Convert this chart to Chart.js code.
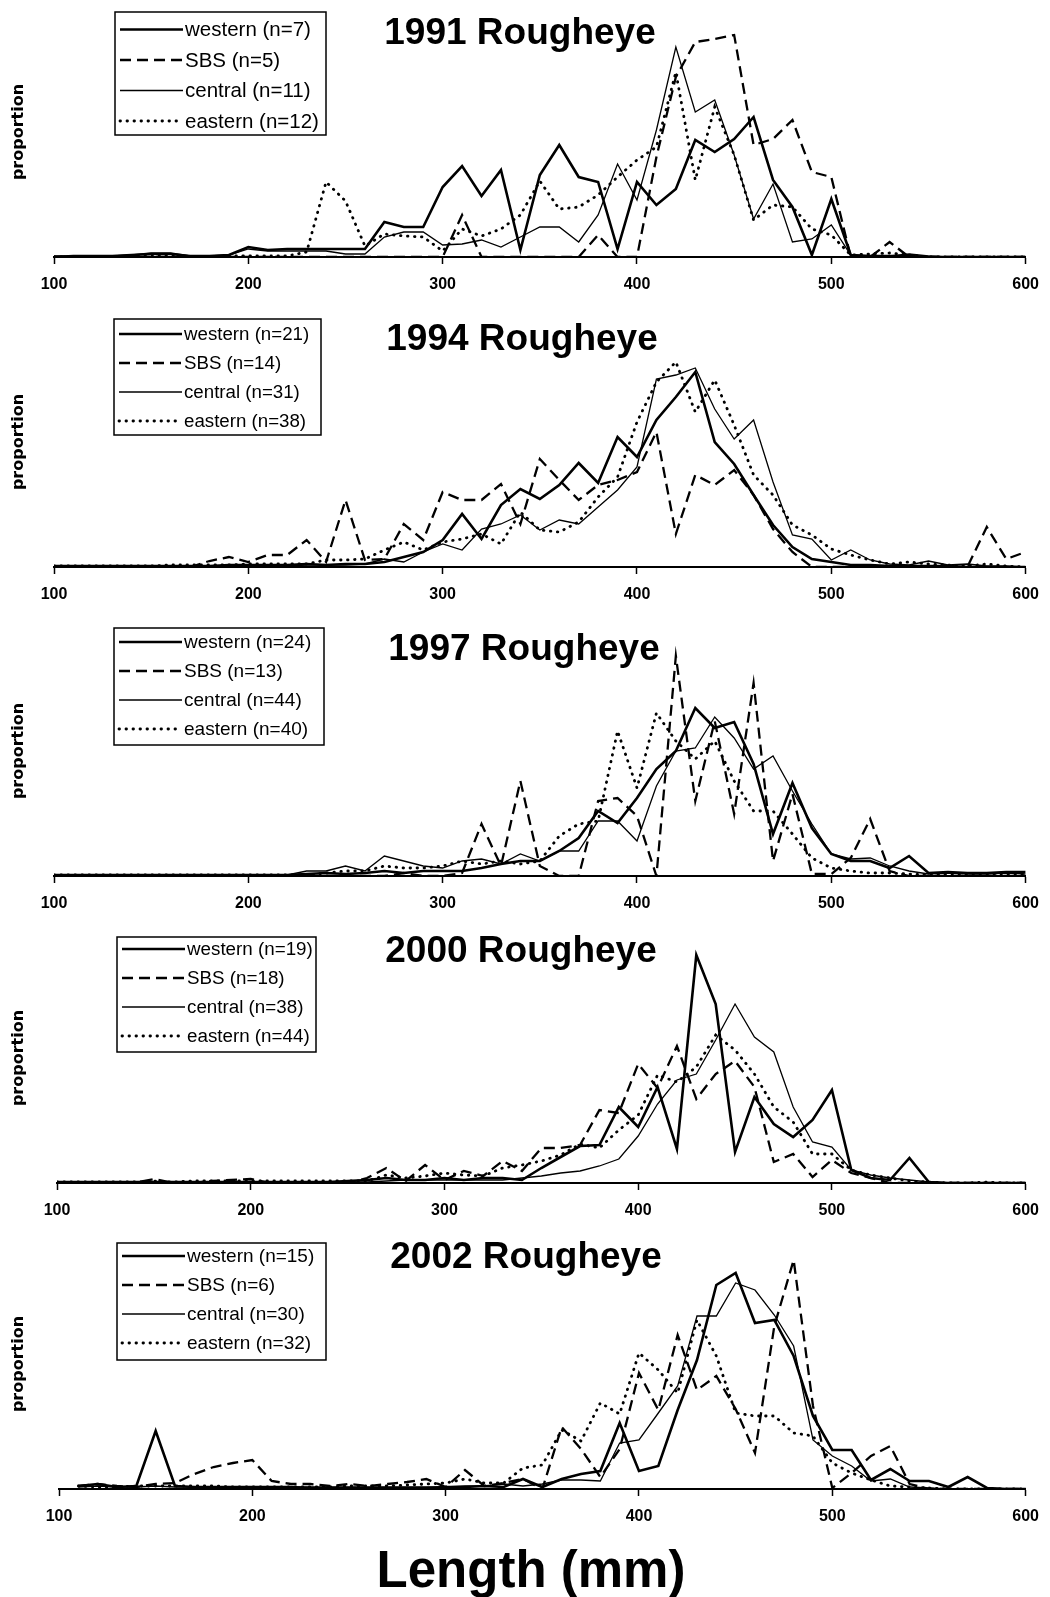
<!DOCTYPE html>
<html>
<head>
<meta charset="utf-8">
<script src="https://cdn.jsdelivr.net/npm/chart.js@4.4.1/dist/chart.umd.min.js"></script>
<style>
html, body { margin:0; padding:0; background:#fff; }
body { width:1050px; height:1597px; position:relative; overflow:hidden; }
.panel { position:absolute; left:0; }
#xlabel { position:absolute; left:6px; width:1050px; top:1544px; text-align:center; font:bold 51px/51px "Liberation Sans", Arial, sans-serif; color:#000; }
</style>
</head>
<body>
<div class="panel" style="top:0px"><canvas id="c1991" width="1050" height="300"></canvas></div>
<div class="panel" style="top:305px"><canvas id="c1994" width="1050" height="305"></canvas></div>
<div class="panel" style="top:614px"><canvas id="c1997" width="1050" height="305"></canvas></div>
<div class="panel" style="top:921px"><canvas id="c2000" width="1050" height="305"></canvas></div>
<div class="panel" style="top:1227px"><canvas id="c2002" width="1050" height="305"></canvas></div>
<div id="xlabel">Length (mm)</div>
<script>
// length bins (mm)
const lengths = [100,110,120,130,140,150,160,170,180,190,200,210,220,230,240,250,260,270,280,290,300,310,320,330,340,350,360,370,380,390,400,410,420,430,440,450,460,470,480,490,500,510,520,530,540,550,560,570,580,590,600]
const xTicks = [100,200,300,400,500,600]

// proportions (%), one value per bin
const west1991 = [0,0.1,0.1,0.1,0.2,0.3,0.3,0.1,0.1,0.2, 1.0,0.7,0.8,0.8,0.8,0.8,0.8,3.5,3.0,3.0, 7.0,9.1,6.1,8.7,0.7,8.2,11.2,8.0,7.5,0.8, 7.5,5.2,6.8,11.7,10.5,11.8,14.0,7.7,5.0,0.2, 5.8,0.2,0.1,0.1,0.1,0,0,0,0,0,0]
const sbs1991  = [0,0,0,0,0,0,0,0,0,0, 0,0,0,0,0,0,0,0,0,0, 0,4.2,0,0,0,0,0,0,2.2,0, 0,10.0,18.0,21.5,21.8,22.2,11.2,11.8,13.7,8.5, 8.0,0,0,1.5,0,0,0,0,0,0,0]
const cent1991 = [0.1,0.1,0.1,0.1,0.2,0.4,0.4,0.1,0.1,0.2, 0.8,0.6,0.6,0.6,0.6,0.3,0.3,2.0,2.5,2.5, 1.2,1.3,1.7,1.0,2.0,3.0,3.0,1.5,4.2,9.3, 5.7,12.7,21.0,14.5,15.7,10.2,3.8,7.3,1.5,1.8, 3.2,0.2,0.1,0.1,0.3,0.1,0,0,0,0,0]
const east1991 = [0,0,0,0,0.1,0.1,0.1,0,0,0.1, 0.1,0.1,0.1,0.5,7.5,5.6,1.1,2.3,2.1,2.0, 0.6,2.8,2.1,2.8,4.2,7.6,4.8,5.0,6.2,8.0, 9.7,11.0,18.5,7.7,15.0,10.2,3.7,5.2,5.0,2.8, 2.2,0.2,0.3,0.4,0.2,0,0,0,0,0,0]

const west1994 = [0.1,0.1,0.1,0.1,0.1,0.1,0.1,0.1,0.1,0.2, 0.2,0.2,0.2,0.3,0.2,0.3,0.3,0.5,1.0,1.5, 2.7,5.3,2.8,6.2,7.8,6.8,8.2,10.4,8.4,13.0, 11.0,14.7,17.0,19.5,12.5,10.3,7.2,4.2,2.0,0.8, 0.5,0.2,0.2,0.1,0.1,0.1,0.1,0,0,0,0]
const sbs1994  = [0,0,0,0,0,0,0,0,0.6,1.0, 0.5,1.2,1.2,2.7,0.5,6.7,0.7,0.8,4.3,2.7, 7.5,6.7,6.7,8.3,4.3,10.8,8.7,6.7,8.2,8.7, 9.5,13.5,3.3,9.2,8.2,9.7,7.2,3.8,1.5,0, 0,0,0,0,0,0,0,0,4.0,0.8,1.5]
const cent1994 = [0.1,0.1,0.1,0.1,0.1,0.1,0.1,0.1,0.1,0.1, 0.1,0.1,0.1,0.2,0.2,0.2,0.3,0.8,0.5,1.5, 2.3,1.7,3.8,4.3,5.2,3.7,4.7,4.3,6.0,7.7, 10.0,18.8,19.2,19.9,15.8,12.8,14.7,8.5,3.2,2.8, 0.7,1.7,0.7,0.3,0.2,0.6,0.2,0.3,0.1,0.1,0]
const east1994 = [0.1,0.1,0.1,0.1,0.1,0.1,0.2,0.2,0.2,0.2, 0.3,0.3,0.3,0.3,0.7,0.7,0.8,1.7,2.5,1.7, 2.5,2.8,3.3,2.3,5.5,3.7,3.5,4.5,7.0,9.0, 14.5,18.5,20.5,15.5,18.7,14.2,9.2,7.2,4.2,3.2, 1.8,1.2,0.7,0.3,0.5,0.3,0.2,0.1,0.3,0.1,0]

const west1997 = [0.1,0.1,0.1,0.1,0.1,0.1,0.1,0.1,0.1,0.1, 0.1,0.1,0.1,0.2,0.3,0.2,0.3,0.5,0.3,0.5, 0.5,0.5,0.8,1.2,1.5,1.5,2.5,3.8,6.5,5.3, 7.8,10.7,12.5,16.8,14.8,15.4,11.2,4.2,9.3,4.8, 2.2,1.5,1.5,0.8,2.0,0.3,0.4,0.3,0.3,0.4,0.4]
const sbs1997  = [0,0,0,0,0,0,0,0,0,0, 0,0,0,0,0,0,0,0,0.3,0, 0,0.3,5.2,1.0,9.5,1.0,0,0,7.5,7.8, 6.0,0,22.0,7.5,15.5,6.2,19.3,1.5,8.2,0.2, 0.2,1.8,5.7,0.5,0,0,0,0,0,0,0]
const cent1997 = [0.1,0.1,0.1,0.1,0.1,0.1,0.1,0.1,0.1,0.1, 0.1,0.1,0.1,0.5,0.5,1.0,0.5,2.0,1.5,1.0, 0.8,1.5,1.7,1.2,2.2,1.5,2.5,2.5,5.5,5.5, 3.5,9.0,12.5,12.8,15.9,13.8,10.7,12.0,8.5,5.2, 2.2,1.7,1.8,1.0,0.5,0.2,0.3,0.2,0.2,0.3,0.2]
const east1997 = [0.1,0.1,0.1,0.1,0.1,0.1,0.1,0.1,0.1,0.1, 0.1,0.1,0.1,0.1,0.3,0.5,0.5,1.0,0.8,0.8, 1.0,1.5,1.2,1.5,1.2,1.5,4.0,5.2,5.5,14.5, 8.8,16.3,13.5,11.7,13.5,9.5,6.5,6.5,4.2,1.8, 0.8,0.5,0.3,0.3,0.2,0.1,0.2,0.2,0.2,0.2,0.2]

const west2000 = [0.1,0.1,0.1,0.1,0.1,0.1,0.1,0.1,0.1,0.1, 0.1,0.1,0.1,0.1,0.1,0.2,0.3,0.5,0.3,0.3, 0.5,0.3,0.5,0.5,0.3,1.5,2.6,3.7,3.8,7.6, 5.6,9.6,3.4,22.8,17.9,3.1,8.6,5.9,4.6,6.3, 9.3,1.3,0.5,0.3,2.5,0.1,0,0,0,0,0]
const sbs2000  = [0,0,0,0,0,0.4,0,0,0.2,0.3, 0.4,0,0,0,0,0,0.5,1.5,0.2,1.8, 0.3,1.2,0.7,2.2,1.2,3.5,3.5,3.8,7.3,7.0, 11.9,9.5,13.7,8.4,10.9,12.2,9.6,2.1,2.9,0.6, 2.3,1.0,0.5,0,0,0,0,0,0,0,0]
const cent2000 = [0.1,0.1,0.1,0.1,0.1,0.1,0.1,0.1,0.1,0.1, 0.1,0.1,0.1,0.1,0.1,0.1,0.1,0.2,0.3,0.3, 0.3,0.3,0.3,0.3,0.5,0.7,1.0,1.2,1.7,2.4, 4.7,7.9,10.3,10.9,14.3,17.9,14.6,13.1,7.6,4.1, 3.6,1.3,0.8,0.5,0.3,0.1,0,0,0,0,0]
const east2000 = [0.1,0.1,0.1,0.1,0.1,0.2,0.1,0.2,0.2,0.2, 0.2,0.2,0.2,0.2,0.2,0.2,0.2,0.8,0.5,0.7, 1.0,0.8,0.7,1.5,1.8,2.2,2.8,3.9,3.5,5.3, 6.8,10.8,10.1,11.6,14.8,13.3,10.9,7.6,6.1,2.9, 2.9,1.3,0.8,0.5,0.2,0.1,0,0,0.1,0,0]

const west2002 = [null,0.3,0.5,0.2,0.3,5.8,0.3,0.2,0.2,0.2, 0.2,0.2,0.2,0.1,0.1,0.1,0.1,0.1,0.1,0.1, 0.2,0.2,0.3,0.2,1.0,0.2,1.0,1.5,1.8,6.6, 1.8,2.3,7.9,12.9,20.4,21.6,16.6,16.9,13.3,7.3, 3.9,3.9,0.9,2.0,0.8,0.8,0.2,1.2,0.1,0,0]
const sbs2002  = [null,0.3,0.5,0.3,0.2,0.5,0.6,1.5,2.2,2.6, 2.9,0.8,0.5,0.5,0.3,0.5,0.3,0.5,0.7,1.0, 0.2,1.9,0.3,0.6,1.0,0,6.2,4.0,1.2,4.0, 11.6,7.9,15.4,9.9,11.3,8.0,3.6,16.3,22.9,8.3, 0.1,1.6,3.3,4.3,0.5,0,0,0,0,0,0]
const cent2002 = [null,0.2,0.3,0.2,0.2,0.3,0.2,0.2,0.2,0.2, 0.2,0.2,0.2,0.2,0.2,0.2,0.2,0.2,0.2,0.2, 0.2,0.3,0.3,0.5,0.3,0.5,0.9,0.9,0.8,4.6, 4.9,7.6,10.3,17.3,17.3,20.6,19.9,17.4,14.3,4.9, 3.3,2.3,0.8,1.0,0.2,0.1,0,0,0,0,0]
const east2002 = [null,0.3,0.2,0.2,0.3,0.3,0.3,0.3,0.3,0.2, 0.2,0.2,0.2,0.2,0.2,0.3,0.3,0.3,0.4,0.5, 0.6,1.0,0.6,0.6,2.1,2.4,5.9,4.8,8.6,7.5, 13.6,11.9,9.6,16.9,13.3,7.6,7.3,7.3,5.6,5.3, 2.6,1.6,0.9,0.3,0.2,0.1,0,0,0,0,0]

// sample sizes per year: western, SBS, central, eastern
const nWest = [7, 21, 24, 19, 15]
const nSbs = [5, 14, 13, 18, 6]
const nCent = [11, 31, 44, 38, 30]
const nEast = [12, 38, 40, 44, 32]
const years = ['1991','1994','1997','2000','2002']

const styles = [
  { borderWidth: 2.6, borderDash: [], borderCapStyle: 'butt' },
  { borderWidth: 2.3, borderDash: [11, 6], borderCapStyle: 'butt' },
  { borderWidth: 1.3, borderDash: [], borderCapStyle: 'butt' },
  { borderWidth: 2.8, borderDash: [0.5, 6.5], borderCapStyle: 'round' }
]

// per panel layout (canvas coords)
const panels = [
  { id:'c1991', series:[west1991,sbs1991,cent1991,east1991], padTop:7,  left:54, right:1027, title:[520,43.5], box:{x:115,y:12,w:211,h:123,row0:29.5,gap:30.5,fs:20.5} },
  { id:'c1994', series:[west1994,sbs1994,cent1994,east1994], padTop:12, left:54, right:1029, title:[522,45],   box:{x:114,y:14,w:207,h:116,row0:29,gap:29,fs:18.7} },
  { id:'c1997', series:[west1997,sbs1997,cent1997,east1997], padTop:12, left:54, right:1031, title:[524,46],   box:{x:114,y:14,w:210,h:117,row0:28,gap:29,fs:19} },
  { id:'c2000', series:[west2000,sbs2000,cent2000,east2000], padTop:12, left:57, right:1033, title:[521,41],   box:{x:117,y:16,w:199,h:115,row0:28,gap:29,fs:18.8} },
  { id:'c2002', series:[west2002,sbs2002,cent2002,east2002], padTop:12, left:59, right:1033, title:[526,41],   box:{x:117,y:16,w:209,h:117,row0:29,gap:29,fs:19} }
]

// title + boxed legend drawn inside the plot
const panelDecor = {
  id: 'panelDecor',
  afterDraw(chart, args, opts) {
    const ctx = chart.ctx
    ctx.save()
    ctx.fillStyle = '#000'
    ctx.font = 'bold 37px "Liberation Sans", Arial, sans-serif'
    ctx.textAlign = 'center'
    ctx.textBaseline = 'alphabetic'
    ctx.fillText(opts.title, opts.titleX, opts.titleY)

    const b = opts.box
    ctx.fillStyle = '#fff'
    ctx.fillRect(b.x, b.y, b.w, b.h)
    ctx.strokeStyle = '#000'
    ctx.lineWidth = 1.5
    ctx.strokeRect(b.x, b.y, b.w, b.h)
    ctx.fillStyle = '#000'
    ctx.font = b.fs + 'px "Liberation Sans", Arial, sans-serif'
    ctx.textAlign = 'left'
    ctx.textBaseline = 'middle'
    chart.data.datasets.forEach((ds, i) => {
      const y = b.row0 + i * b.gap
      ctx.save()
      ctx.lineWidth = ds.borderWidth
      ctx.setLineDash(ds.borderDash || [])
      ctx.lineCap = ds.borderCapStyle || 'butt'
      ctx.beginPath(); ctx.moveTo(b.x + 5, y); ctx.lineTo(b.x + 68, y); ctx.stroke()
      ctx.restore()
      ctx.fillText(ds.label, b.x + 70, y + 1)
    })
    ctx.restore()
  }
}

panels.forEach((p, k) => {
  const names = ['western (n=' + nWest[k] + ')', 'SBS (n=' + nSbs[k] + ')', 'central (n=' + nCent[k] + ')', 'eastern (n=' + nEast[k] + ')']
  const datasets = p.series.map((vals, i) => Object.assign({
    label: names[i],
    data: lengths.map((x, j) => ({ x, y: vals[j] })),
    borderColor: '#000',
    pointRadius: 0,
    tension: 0,
    fill: false
  }, styles[i]))

  new Chart(document.getElementById(p.id).getContext('2d'), {
    type: 'line',
    data: { datasets },
    plugins: [panelDecor],
    options: {
      responsive: false,
      animation: false,
      layout: { padding: { top: p.padTop, left: 0, right: 1050 - p.right, bottom: 0 } },
      plugins: {
        legend: { display: false },
        tooltip: { enabled: false },
        panelDecor: { title: years[k] + ' Rougheye', titleX: p.title[0], titleY: p.title[1], box: p.box }
      },
      scales: {
        x: {
          type: 'linear', min: 100, max: 600,
          afterFit: s => { s.height = 43 },
          afterBuildTicks: s => { s.ticks = xTicks.map(v => ({ value: v })) },
          border: { display: true, color: '#000', width: 2 },
          grid: { display: true, drawOnChartArea: false, drawTicks: true, tickLength: 7, tickColor: '#000', tickWidth: 1.5 },
          ticks: { color: '#000', padding: 11, maxRotation: 0, font: { family: '"Liberation Sans", Arial, sans-serif', size: 16, weight: 'bold' } }
        },
        y: {
          min: 0, max: 25,
          afterFit: s => { s.width = p.left },
          border: { display: false },
          grid: { display: false },
          ticks: { display: false },
          title: { display: true, text: 'proportion', color: '#000', padding: { top: 9, bottom: 0 }, font: { family: '"DejaVu Sans", sans-serif', size: 16, weight: 'bold' } }
        }
      }
    }
  })
})
</script>
</body>
</html>
